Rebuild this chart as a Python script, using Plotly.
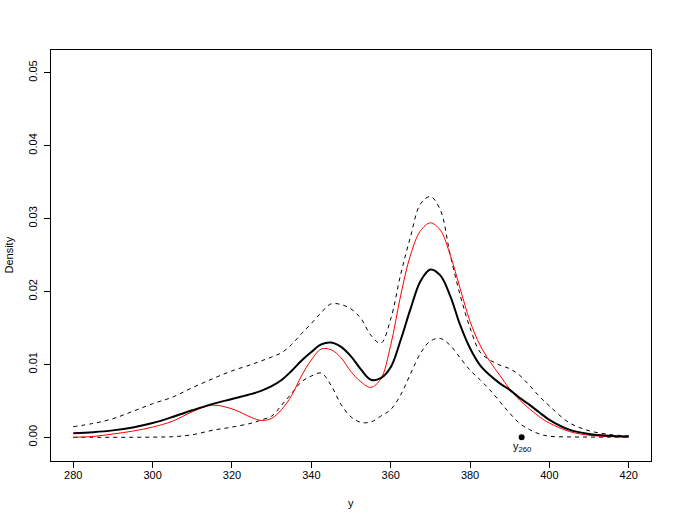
import plotly.graph_objects as go

# shared x grid (values of y on the horizontal axis)
x_grid = [280, 285, 290, 295, 300, 305, 310, 315, 320, 325, 327.5, 330, 332.5, 335,
          337.5, 340, 342.5, 345, 347.5, 350, 352.5, 355, 357.5, 360, 362.5, 365,
          367.5, 370, 372.5, 375, 377.5, 380, 382.5, 385, 387.5, 390, 392.5, 395,
          397.5, 400, 405, 410, 415, 420]

# densities in units of 0.001
black_mid = [0.55, 0.7, 0.95, 1.35, 1.95, 2.78, 3.7, 4.55, 5.25, 5.95, 6.4, 7.0, 7.85, 9.1,
             10.5, 11.7, 12.75, 13.0, 12.4, 11.1, 9.3, 7.9, 8.1, 9.6, 13.3, 17.6,
             21.4, 23.0, 22.2, 19.4, 15.4, 12.2, 9.9, 8.5, 7.4, 6.5, 5.4, 4.45,
             3.4, 2.4, 1.05, 0.45, 0.2, 0.1]
upper_band = [1.46, 1.9, 2.55, 3.55, 4.6, 5.5, 6.8, 8.0, 9.1, 10.0, 10.5, 11.0, 11.6, 12.7,
              14.2, 15.6, 17.1, 18.3, 18.2, 17.6, 16.3, 14.0, 12.9, 16.2, 22.3, 27.5,
              32.0, 33.0, 31.2, 25.0, 19.5, 15.0, 11.7, 10.6, 9.9, 9.4, 8.5, 7.1,
              5.6, 4.3, 2.0, 0.9, 0.4, 0.18]
lower_band = [0.0, 0.0, 0.0, 0.0, 0.02, 0.08, 0.35, 0.95, 1.4, 1.95, 2.4, 2.9, 4.4, 6.0,
              7.6, 8.4, 8.8, 7.1, 4.5, 2.8, 2.05, 2.1, 2.9, 3.8, 5.8, 8.7,
              11.5, 13.2, 13.55, 12.6, 10.9, 9.2, 7.9, 6.5, 4.9, 3.3, 1.9, 1.05,
              0.45, 0.15, 0.05, 0.03, 0.02, 0.02]
red_curve = [0.0, 0.12, 0.45, 0.85, 1.4, 2.2, 3.5, 4.4, 3.9, 2.7, 2.3, 2.6, 3.8, 5.7,
             8.4, 10.6, 12.1, 12.0, 10.9, 9.0, 7.6, 6.85, 8.0, 12.6, 19.4, 25.0,
             28.3, 29.4, 28.4, 25.0, 20.4, 15.9, 12.66, 10.4, 8.5, 6.6, 5.1, 3.9,
             2.8, 1.95, 0.8, 0.28, 0.1, 0.05]

obs_x = [393]
obs_y = [0.0]
obs_label = "y<sub>260</sub>"

x_ticks = [280, 300, 320, 340, 360, 380, 400, 420]
y_ticks = [0.00, 0.01, 0.02, 0.03, 0.04, 0.05]

def scale(v):
    return [a / 1000.0 for a in v]

FONT = "Liberation Sans, Arial, sans-serif"

fig = go.Figure()
common = dict(mode="lines", line_shape="spline", hoverinfo="skip", showlegend=False)
fig.add_trace(go.Scatter(x=x_grid, y=scale(upper_band), line=dict(color="black", width=1, dash="4px,4px", smoothing=1), **common))
fig.add_trace(go.Scatter(x=x_grid, y=scale(lower_band), line=dict(color="black", width=1, dash="4px,4px", smoothing=1), **common))
fig.add_trace(go.Scatter(x=x_grid, y=scale(red_curve), line=dict(color="#ff0000", width=1, smoothing=1), **common))
fig.add_trace(go.Scatter(x=x_grid, y=scale(black_mid), line=dict(color="black", width=2, smoothing=1), **common))
fig.add_trace(go.Scatter(x=obs_x, y=obs_y, mode="markers", marker=dict(color="black", size=6),
                         hoverinfo="skip", showlegend=False))

fig.add_annotation(x=obs_x[0], y=obs_y[0], text=obs_label, showarrow=False,
                   xanchor="center", yanchor="middle", yshift=-10,
                   font=dict(size=11, color="black", family=FONT))

axis_common = dict(showline=True, mirror=True, linecolor="black", linewidth=1,
                   ticks="outside", ticklen=6, tickcolor="black", tickwidth=1,
                   showgrid=False, zeroline=False, automargin=False,
                   tickfont=dict(size=11, color="black", family=FONT))

fig.update_layout(
    width=677, height=523,
    margin=dict(l=51, r=26, t=50, b=62, autoexpand=False),
    paper_bgcolor="white", plot_bgcolor="white",
    font=dict(family=FONT, size=11, color="black"),
    xaxis=dict(range=[274.4, 425.6], tickvals=x_ticks, ticktext=[str(t) for t in x_ticks],
               ticklabelstandoff=-2, **axis_common),
    yaxis=dict(range=[-0.00325, 0.0531], tickvals=y_ticks, ticktext=[f"{t:.2f}" for t in y_ticks],
               tickangle=-90, ticklabelstandoff=3, **axis_common),
)

fig.add_annotation(x=0.5, y=0, xref="paper", yref="paper", text="y", showarrow=False,
                   xanchor="center", yanchor="middle", yshift=-42,
                   font=dict(size=11, color="black", family=FONT))
fig.add_annotation(x=0, y=0.5, xref="paper", yref="paper", text="Density", showarrow=False,
                   xanchor="center", yanchor="middle", xshift=-43, textangle=-90,
                   font=dict(size=11, color="black", family=FONT))

fig.write_html("out.html", config={"displayModeBar": False},
               post_script="document.body.style.margin='0px';document.body.style.padding='0px';")
